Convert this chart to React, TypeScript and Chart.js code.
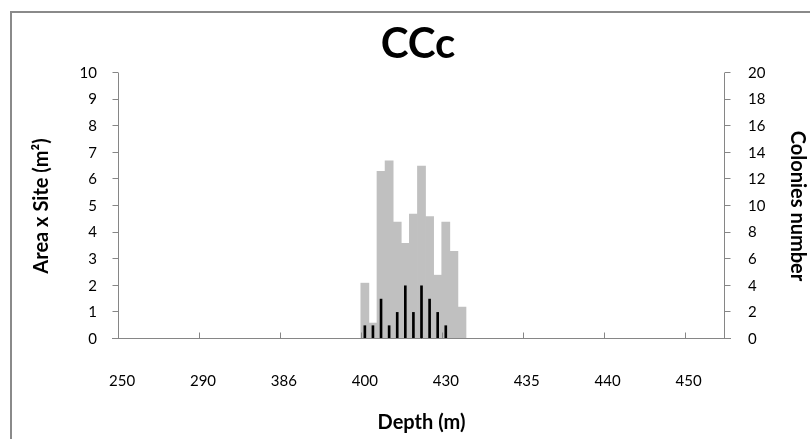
import React, { useEffect, useRef } from 'react';
import { Chart, registerables } from 'chart.js';

Chart.register(...registerables);

// Tick labels shown on the category axis (one every 10 categories)
const depthTickLabels = ['250', '290', '386', '400', '430', '435', '440', '450'];
const labelEvery = 10;
const categoryCount = 75;
// first category carrying data (the "400" category)
const firstDataIndex = 30;
// Area x Site (m²), left axis
const areaValues = [2.1, 0.6, 6.3, 6.7, 4.4, 3.6, 4.7, 6.5, 4.6, 2.4, 4.4, 3.3, 1.2];
// Colonies number, right axis
const colonyValues = [1, 1, 3, 1, 2, 4, 2, 4, 3, 2, 1];

const categories = Array.from({ length: categoryCount }, (_, i) =>
  i % labelEvery === 0 ? depthTickLabels[i / labelEvery] ?? '' : ''
);
const placeSeries = (vals: number[]) =>
  Array.from({ length: categoryCount }, (_, i) => {
    const k = i - firstDataIndex;
    return k >= 0 && k < vals.length ? vals[k] : null;
  });

const FONT = 'Lato, "Open Sans", sans-serif';
const AXIS_COLOR = '#868686';

const framePlugin = {
  id: 'frame',
  afterDraw(chart: any) {
    const { ctx, chartArea } = chart;
    const { left, right, top, bottom } = chartArea;
    const x = chart.scales.x;
    const y = chart.scales.y;
    const y1 = chart.scales.y1;
    ctx.save();
    // outer border
    ctx.strokeStyle = '#8a8a8a';
    ctx.lineWidth = 2;
    ctx.strokeRect(11, 12, 830, 460);

    ctx.strokeStyle = AXIS_COLOR;
    ctx.lineWidth = 1;
    ctx.beginPath();
    const lx = Math.round(left) + 0.5;
    ctx.moveTo(lx, top);
    ctx.lineTo(lx, bottom);
    const rx = Math.round(right) - 0.5;
    ctx.moveTo(rx, top);
    ctx.lineTo(rx, bottom);
    const by = Math.round(bottom) - 0.5;
    ctx.moveTo(left - 6, by);
    ctx.lineTo(right + 6, by);
    for (let v = 0; v <= 10; v += 1) {
      const py = Math.round(y.getPixelForValue(v)) - 0.5;
      ctx.moveTo(lx - 6, py);
      ctx.lineTo(lx, py);
    }
    for (let v = 0; v <= 20; v += 2) {
      const py = Math.round(y1.getPixelForValue(v)) - 0.5;
      ctx.moveTo(rx, py);
      ctx.lineTo(rx + 6, py);
    }
    const half = (x.getPixelForValue(1) - x.getPixelForValue(0)) / 2;
    for (let i = 0; i < categoryCount; i += labelEvery) {
      const px = Math.round(x.getPixelForValue(i) - half) + 0.5;
      ctx.moveTo(px, by);
      ctx.lineTo(px, by - 6);
    }
    ctx.stroke();

    // chart title
    ctx.fillStyle = '#000';
    ctx.font = `bold 42px ${FONT}`;
    ctx.textAlign = 'center';
    ctx.textBaseline = 'middle';
    ctx.fillText('CCc', 418, 44);
    ctx.restore();
  },
};

export default function App() {
  const ref = useRef<HTMLCanvasElement | null>(null);
  useEffect(() => {
    if (!ref.current) return;
    const chart = new Chart(ref.current, {
      type: 'bar',
      data: {
        labels: categories,
        datasets: [
          {
            type: 'bar',
            label: 'Colonies number',
            data: placeSeries(colonyValues),
            yAxisID: 'y1',
            backgroundColor: '#000000',
            barThickness: 2,
            grouped: false,
            order: 0,
          } as any,
          {
            type: 'bar',
            label: 'Area x Site',
            data: placeSeries(areaValues),
            yAxisID: 'y',
            backgroundColor: '#c0c0c0',
            categoryPercentage: 1,
            barPercentage: 1,
            grouped: false,
            order: 1,
          } as any,
        ],
      },
      options: {
        responsive: false,
        animation: false,
        layout: { padding: { top: 73, left: 0, right: 0, bottom: 0 } },
        plugins: {
          legend: { display: false },
          tooltip: { enabled: false },
          title: { display: false },
        },
        scales: {
          x: {
            offset: true,
            grid: { display: false, drawTicks: false },
            border: { display: false },
            ticks: {
              autoSkip: false,
              maxRotation: 0,
              minRotation: 0,
              padding: 33,
              color: '#000',
              font: { family: FONT, size: 15 },
            },
            title: {
              display: true,
              text: 'Depth (m)',
              color: '#000',
              font: { family: FONT, size: 20, weight: 'bold' },
              padding: { top: 0, bottom: 4 },
            },
            afterFit: (s: any) => {
              s.height = 100;
            },
          },
          y: {
            position: 'left',
            min: 0,
            max: 10,
            grid: { display: false, drawTicks: false },
            border: { display: false },
            ticks: {
              stepSize: 1,
              padding: 21,
              color: '#000',
              font: { family: FONT, size: 15 },
            },
            title: {
              display: true,
              text: 'Area x Site (m²)',
              color: '#000',
              font: { family: FONT, size: 20, weight: 'bold' },
              padding: { top: 30, bottom: 0 },
            },
            afterFit: (s: any) => {
              s.width = 118;
            },
          },
          y1: {
            position: 'right',
            min: 0,
            max: 20,
            grid: { display: false, drawTicks: false },
            border: { display: false },
            ticks: {
              stepSize: 2,
              padding: 23,
              color: '#000',
              font: { family: FONT, size: 15 },
            },
            title: {
              display: true,
              text: 'Colonies number',
              color: '#000',
              font: { family: FONT, size: 20, weight: 'bold' },
              padding: { top: 1, bottom: 0 },
            },
            afterFit: (s: any) => {
              s.width = 85;
            },
          },
        },
      } as any,
      plugins: [framePlugin],
    });
    return () => chart.destroy();
  }, []);

  return (
    <div style={{ position: 'absolute', left: 0, top: 0, width: 810, height: 439, background: '#fff' }}>
      <canvas ref={ref} width={810} height={439} style={{ display: 'block', width: 810, height: 439 }} />
    </div>
  );
}
